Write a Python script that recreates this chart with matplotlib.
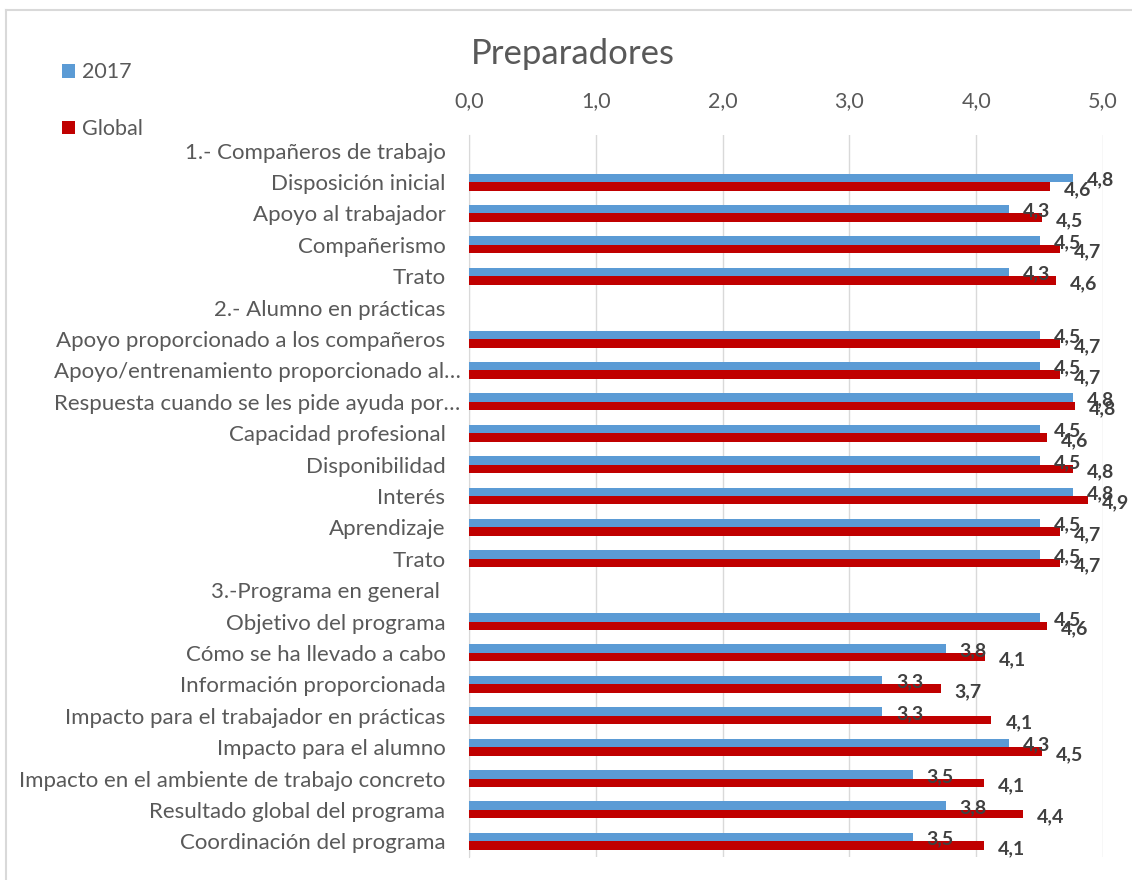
import numpy as np
import matplotlib
matplotlib.use("Agg")
import matplotlib.pyplot as plt
from matplotlib.lines import Line2D
from matplotlib.transforms import ScaledTranslation

plt.rcParams['font.family'] = ['Lato', 'DejaVu Sans']

# Categories (top to bottom)
categories = [
    "1.- Compañeros de trabajo",
    "Disposición inicial",
    "Apoyo al trabajador",
    "Compañerismo",
    "Trato",
    "2.- Alumno en prácticas",
    "Apoyo proporcionado a los compañeros",
    "Apoyo/entrenamiento proporcionado al…",
    "Respuesta cuando se les pide ayuda por…",
    "Capacidad profesional",
    "Disponibilidad",
    "Interés",
    "Aprendizaje",
    "Trato",
    "3.-Programa en general ",
    "Objetivo del programa",
    "Cómo se ha llevado a cabo",
    "Información proporcionada",
    "Impacto para el trabajador en prácticas",
    "Impacto para el alumno",
    "Impacto en el ambiente de trabajo concreto",
    "Resultado global del programa",
    "Coordinación del programa",
]

# series values (header rows are empty)
vals_2017 = [np.nan, 4.76, 4.26, 4.50, 4.26,
             np.nan, 4.50, 4.50, 4.76, 4.50, 4.50, 4.76, 4.50, 4.50,
             np.nan, 4.50, 3.76, 3.26, 3.26, 4.26, 3.50, 3.76, 3.50]
vals_global = [np.nan, 4.58, 4.52, 4.66, 4.63,
               np.nan, 4.66, 4.66, 4.78, 4.56, 4.76, 4.88, 4.66, 4.66,
               np.nan, 4.56, 4.07, 3.72, 4.12, 4.52, 4.06, 4.37, 4.06]

xticks = [0, 1, 2, 3, 4, 5]
xtick_labels = ["0,0", "1,0", "2,0", "3,0", "4,0", "5,0"]

blue = "#5B9BD5"
red = "#C00000"
txt = "#595959"

W, H = 1132, 880
fig = plt.figure(figsize=(W / 100, H / 100), dpi=100)
ax = fig.add_axes([469 / W, 1 - 857 / H, (1103 - 469) / W, (857 - 135) / H])

n = len(categories)
y = np.arange(n)
h = 0.27
ax.barh(y - h / 2, vals_2017, height=h, color=blue, label="2017", zorder=3)
ax.barh(y + h / 2, vals_global, height=h, color=red, label="Global", zorder=3)

# data labels
for yi, v in zip(y, vals_2017):
    if not np.isnan(v):
        ax.annotate(("%.1f" % v).replace(".", ","), (v, yi - h / 2),
                    xytext=(14, -2), textcoords="offset pixels",
                    ha="left", va="center", fontsize=14, fontweight="bold",
                    color="#404040", zorder=4)
for yi, v in zip(y, vals_global):
    if not np.isnan(v):
        ax.annotate(("%.1f" % v).replace(".", ","), (v, yi + h / 2),
                    xytext=(14, -3), textcoords="offset pixels",
                    ha="left", va="center", fontsize=14, fontweight="bold",
                    color="#404040", zorder=4)

ax.set_ylim(n - 0.5, -0.5)
ax.set_yticks(y)
ax.set_yticklabels(categories, fontsize=16, color=txt)
ax.set_xlim(0, 5)
ax.set_xticks(xticks)
ax.set_xticklabels(xtick_labels, fontsize=15.5, color=txt)
ax.xaxis.tick_top()
ax.tick_params(axis="both", length=0)
ax.tick_params(axis="y", pad=17)
ax.tick_params(axis="x", pad=17)
ax.grid(axis="x", color="#D9D9D9", linewidth=1, zorder=0)
for s in ["top", "right", "bottom"]:
    ax.spines[s].set_visible(False)
ax.spines["left"].set_color("#D9D9D9")

# truncated labels sit a bit further right, as in the original
for lbl in ax.get_yticklabels():
    if lbl.get_text().endswith("…"):
        lbl.set_transform(lbl.get_transform() + ScaledTranslation(0.15, 0, fig.dpi_scale_trans))

fig.text(573 / W, 1 - 54 / H, "Preparadores", ha="center", va="center",
         fontsize=25, color=txt)

handles, labels = ax.get_legend_handles_labels()
fig.legend(handles, labels, loc="upper left", bbox_to_anchor=(43 / W, 1 - 43 / H),
           frameon=False, fontsize=15.5, handlelength=0.6, handleheight=0.6,
           handletextpad=0.3, labelspacing=1.7, labelcolor=txt)

# chart border (only top and left visible in the crop)
fig.lines.append(Line2D([6 / W, 1], [1 - 10 / H, 1 - 10 / H], transform=fig.transFigure,
                        color="#D9D9D9", linewidth=1.5))
fig.lines.append(Line2D([6 / W, 6 / W], [0, 1 - 10 / H], transform=fig.transFigure,
                        color="#D9D9D9", linewidth=1.5))

fig.savefig("out.png", dpi=100)
